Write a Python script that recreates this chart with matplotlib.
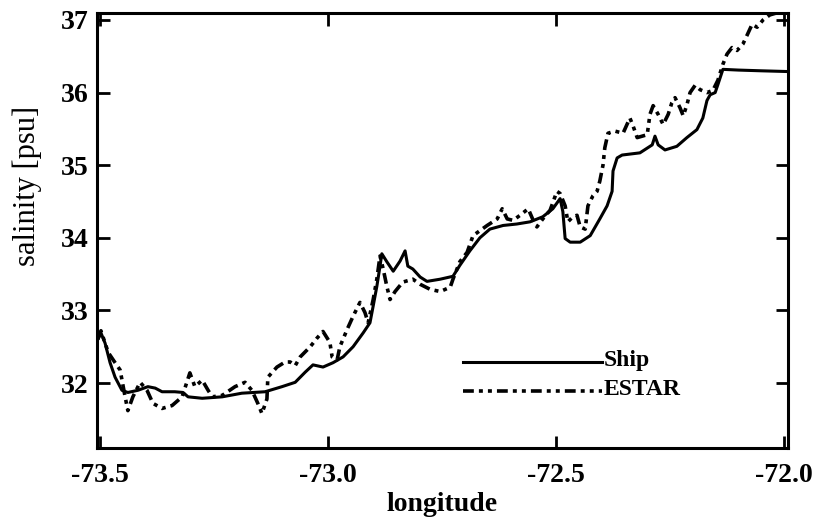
import matplotlib
matplotlib.use("Agg")
import matplotlib.pyplot as plt
import numpy as np
from matplotlib.legend_handler import HandlerLine2D
from matplotlib.lines import Line2D

# ---- data ----
ship_lon = [-73.505, -73.498, -73.489, -73.478, -73.467, -73.452, -73.439, -73.417,
            -73.395, -73.379, -73.364, -73.336, -73.318, -73.307, -73.276, -73.232,
            -73.189, -73.138, -73.101, -73.072, -73.050, -73.033, -73.011, -72.989,
            -72.967, -72.945, -72.923, -72.908, -72.901, -72.893, -72.886, -72.882,
            -72.871, -72.857, -72.842, -72.831, -72.825, -72.814, -72.798, -72.783,
            -72.754, -72.726, -72.711, -72.689, -72.667, -72.645, -72.616, -72.586,
            -72.557, -72.529, -72.507, -72.491, -72.485, -72.480, -72.469, -72.447,
            -72.425, -72.404, -72.388, -72.377, -72.375, -72.366, -72.355, -72.316,
            -72.289, -72.283, -72.276, -72.261, -72.235, -72.213, -72.191, -72.178,
            -72.169, -72.162, -72.151, -72.145, -72.134, -72.100, -72.050, -71.993]
ship_sal = [32.60, 32.69, 32.55, 32.28, 32.08, 31.90, 31.87, 31.90,
            31.95, 31.93, 31.88, 31.88, 31.87, 31.81, 31.79, 31.81,
            31.86, 31.88, 31.95, 32.01, 32.15, 32.25, 32.22, 32.28,
            32.36, 32.50, 32.69, 32.83, 33.06, 33.33, 33.61, 33.78,
            33.67, 33.54, 33.68, 33.82, 33.61, 33.57, 33.46, 33.40,
            33.43, 33.47, 33.62, 33.82, 34.00, 34.12, 34.17, 34.19,
            34.22, 34.29, 34.40, 34.54, 34.36, 33.99, 33.94, 33.94,
            34.03, 34.26, 34.44, 34.64, 34.92, 35.10, 35.14, 35.17,
            35.28, 35.40, 35.28, 35.21, 35.26, 35.38, 35.49, 35.65,
            35.89, 35.97, 36.00, 36.11, 36.32, 36.31, 36.30, 36.29]

estar_lon = [-73.505, -73.498, -73.482, -73.467, -73.456, -73.445, -73.439, -73.428,
             -73.412, -73.397, -73.384, -73.364, -73.342, -73.320, -73.303, -73.292,
             -73.276, -73.263, -73.254, -73.232, -73.204, -73.182, -73.167, -73.154,
             -73.145, -73.134, -73.132, -73.112, -73.094, -73.083, -73.072, -73.061,
             -73.039, -73.024, -73.011, -72.996, -72.991, -72.980, -72.974, -72.958,
             -72.945, -72.930, -72.919, -72.912, -72.901, -72.893, -72.886, -72.879,
             -72.871, -72.864, -72.853, -72.836, -72.814, -72.798, -72.776, -72.754,
             -72.732, -72.726, -72.711, -72.695, -72.682, -72.651, -72.629, -72.618,
             -72.607, -72.594, -72.579, -72.561, -72.550, -72.542, -72.529, -72.513,
             -72.498, -72.491, -72.480, -72.474, -72.463, -72.454, -72.447, -72.436,
             -72.430, -72.419, -72.410, -72.404, -72.397, -72.393, -72.386, -72.371,
             -72.353, -72.338, -72.331, -72.322, -72.300, -72.294, -72.287, -72.276,
             -72.265, -72.254, -72.246, -72.239, -72.228, -72.221, -72.213, -72.206,
             -72.195, -72.184, -72.169, -72.156, -72.145, -72.134, -72.125, -72.114,
             -72.103, -72.090, -72.081, -72.070, -72.059, -72.046, -72.031, -72.009,
             -71.993]
estar_sal = [32.60, 32.72, 32.42, 32.28, 32.18, 31.81, 31.62, 31.81,
             32.01, 31.90, 31.72, 31.65, 31.69, 31.81, 32.14, 31.95,
             32.04, 31.90, 31.81, 31.83, 31.95, 32.01, 31.90, 31.72,
             31.58, 31.78, 32.08, 32.22, 32.29, 32.29, 32.24, 32.36,
             32.50, 32.62, 32.71, 32.56, 32.36, 32.32, 32.50, 32.74,
             32.92, 33.11, 32.97, 32.83, 33.15, 33.43, 33.75, 33.57,
             33.33, 33.15, 33.26, 33.39, 33.43, 33.36, 33.29, 33.26,
             33.32, 33.43, 33.67, 33.80, 34.03, 34.17, 34.26, 34.40,
             34.26, 34.24, 34.31, 34.40, 34.24, 34.15, 34.26, 34.38,
             34.64, 34.61, 34.44, 34.22, 34.29, 34.31, 34.15, 34.12,
             34.44, 34.58, 34.64, 34.78, 35.00, 35.24, 35.44, 35.47,
             35.44, 35.65, 35.54, 35.38, 35.42, 35.70, 35.82, 35.70,
             35.56, 35.70, 35.86, 35.93, 35.79, 35.68, 35.83, 36.00,
             36.10, 36.04, 36.00, 36.03, 36.17, 36.39, 36.53, 36.62,
             36.58, 36.67, 36.79, 36.94, 36.90, 37.00, 37.07, 37.11,
             37.11]

x_ticks = [-73.5, -73.0, -72.5, -72.0]
x_ticklabels = ["-73.5", "-73.0", "-72.5", "-72.0"]
y_ticks = [32, 33, 34, 35, 36, 37]
series_labels = ["Ship", "ESTAR"]


class LowLineHandler(HandlerLine2D):
    """Legend line drawn slightly below the text centre (near the baseline)."""
    def create_artists(self, legend, orig_handle, xdescent, ydescent,
                       width, height, fontsize, trans):
        artists = super().create_artists(legend, orig_handle, xdescent, ydescent,
                                         width, height, fontsize, trans)
        for a in artists:
            if isinstance(a, Line2D):
                a.set_ydata(np.asarray(a.get_ydata()) - 0.18 * fontsize)
        return artists


# ---- figure ----
plt.rcParams['font.family'] = ['Liberation Serif', 'DejaVu Serif']
fig = plt.figure(figsize=(8.23, 5.18), dpi=100)
ax = fig.add_axes([0.1179, 0.1351, 0.8396, 0.8398])

ax.plot(ship_lon, ship_sal, color='black', lw=2.2, solid_joinstyle='round',
        label=series_labels[0])
ax.plot(estar_lon, estar_sal, color='black', lw=2.6,
        linestyle=(0, (3, 1.4, 1.1, 1.4, 1.1, 1.4)), label=series_labels[1])

ax.set_xlim(-73.5066, -71.9912)
ax.set_ylim(31.105, 37.096)
ax.set_xticks(x_ticks)
ax.set_xticklabels(x_ticklabels)
ax.set_yticks(y_ticks)

for s in ax.spines.values():
    s.set_linewidth(2.2)
ax.tick_params(direction='in', length=9, width=2, top=True, right=True,
               labelsize=20)
for lab in ax.get_xticklabels() + ax.get_yticklabels():
    lab.set_fontweight('bold')
ax.tick_params(axis='x', pad=11)
ax.tick_params(axis='y', pad=6)

ax.set_xlabel("longitude", fontsize=20, fontweight='bold', labelpad=3)
ax.set_ylabel("salinity [psu]", fontsize=22)
ax.yaxis.set_label_coords(-0.079, 0.602)

ax.legend(loc='center left', bbox_to_anchor=(0.5297, 0.169), frameon=False,
          prop={'size': 17, 'weight': 'bold'}, handlelength=5.9,
          handletextpad=0.05, labelspacing=0.3, borderpad=0, borderaxespad=0,
          handler_map={Line2D: LowLineHandler()})

fig.savefig("out.png", dpi=100)
